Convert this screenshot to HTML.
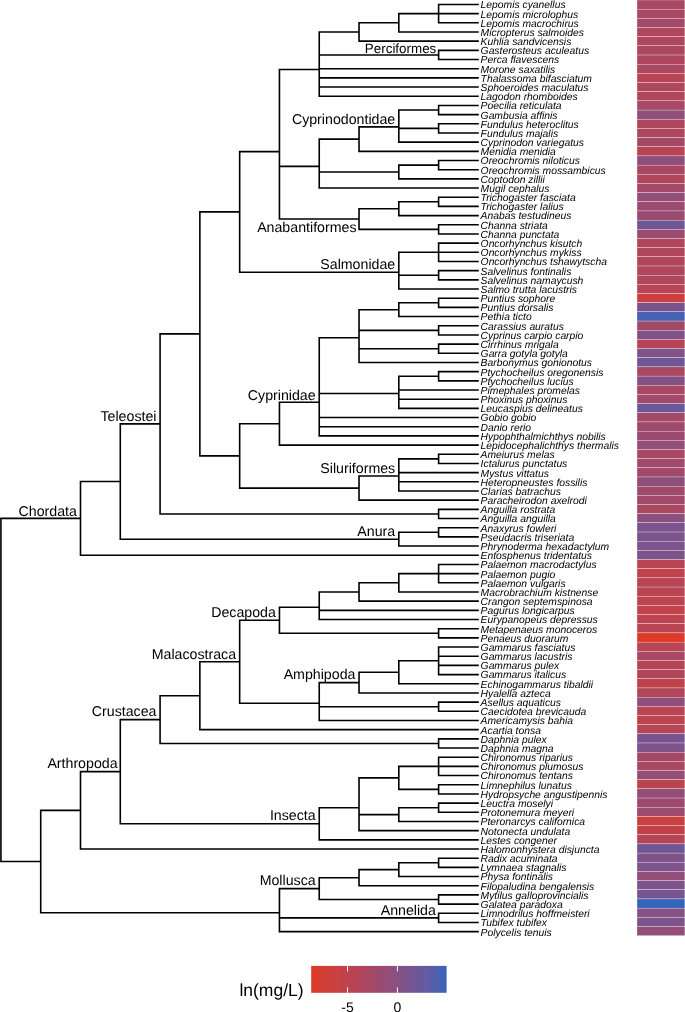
<!DOCTYPE html>
<html><head><meta charset="utf-8"><style>
html,body{margin:0;padding:0;background:#fff;}
body{width:685px;height:1012px;overflow:hidden;}
svg{display:block;will-change:transform;text-rendering:geometricPrecision;}
.leaf{font-family:"Liberation Sans",sans-serif;font-style:italic;font-size:10.33px;fill:#000;}
.clade{font-family:"Liberation Sans",sans-serif;font-size:14.2px;fill:#000;text-anchor:end;}
.lg{font-family:"Liberation Sans",sans-serif;fill:#000;}
</style></head><body>
<svg width="685" height="1012" viewBox="0 0 685 1012">
<rect width="685" height="1012" fill="#fff"/>
<path d="M438.61 3.65V23.61M438.61 4.45H478.80M438.61 13.63H478.80M438.61 22.81H478.80M398.82 12.83V32.79M398.82 13.63H438.61M398.82 31.99H478.80M359.03 22.01V41.97M359.03 22.81H398.82M359.03 41.17H478.80M438.61 49.55V60.33M438.61 50.35H478.80M438.61 59.53H478.80M319.24 31.19V97.05M319.24 31.99H359.03M319.24 54.94H438.61M319.24 68.71H478.80M319.24 77.89H478.80M319.24 87.07H478.80M319.24 96.25H478.80M438.61 104.63V115.41M438.61 105.43H478.80M438.61 114.61H478.80M438.61 122.99V133.77M438.61 123.79H478.80M438.61 132.97H478.80M398.82 109.22V142.95M398.82 110.02H438.61M398.82 128.38H438.61M398.82 142.15H478.80M359.03 126.05V152.13M359.03 126.85H398.82M359.03 151.33H478.80M438.61 159.71V170.49M438.61 160.51H478.80M438.61 169.69H478.80M398.82 164.30V179.67M398.82 165.10H438.61M398.82 178.87H478.80M319.24 138.29V188.85M319.24 139.09H359.03M319.24 171.98H398.82M319.24 188.05H478.80M438.61 196.43V207.21M438.61 197.23H478.80M438.61 206.41H478.80M398.82 201.02V216.39M398.82 201.82H438.61M398.82 215.59H478.80M438.61 223.97V234.75M438.61 224.77H478.80M438.61 233.95H478.80M359.03 207.90V230.16M359.03 208.70H398.82M359.03 229.36H438.61M279.45 68.68V219.83M279.45 69.48H319.24M279.45 166.37H319.24M279.45 219.03H359.03M438.61 242.33V262.29M438.61 243.13H478.80M438.61 252.31H478.80M438.61 261.49H478.80M438.61 269.87V280.65M438.61 270.67H478.80M438.61 279.85H478.80M398.82 251.51V289.83M398.82 252.31H438.61M398.82 275.26H438.61M398.82 289.03H478.80M239.66 150.83V273.00M239.66 151.63H279.45M239.66 272.20H398.82M438.61 297.41V308.19M438.61 298.21H478.80M438.61 307.39H478.80M398.82 302.00V317.37M398.82 302.80H438.61M398.82 316.57H478.80M438.61 324.95V335.73M438.61 325.75H478.80M438.61 334.93H478.80M438.61 343.31V354.09M438.61 344.11H478.80M438.61 353.29H478.80M359.03 308.88V363.27M359.03 309.68H398.82M359.03 330.34H438.61M359.03 348.70H438.61M359.03 362.47H478.80M438.61 370.85V381.63M438.61 371.65H478.80M438.61 380.83H478.80M398.82 375.44V409.17M398.82 376.24H438.61M398.82 390.01H478.80M398.82 399.19H478.80M398.82 408.37H478.80M319.24 337.00V436.71M319.24 337.80H359.03M319.24 393.45H398.82M319.24 417.55H478.80M319.24 426.73H478.80M319.24 435.91H478.80M279.45 401.49V445.89M279.45 402.29H319.24M279.45 445.09H478.80M438.61 453.47V464.25M438.61 454.27H478.80M438.61 463.45H478.80M398.82 458.06V491.79M398.82 458.86H438.61M398.82 472.63H478.80M398.82 481.81H478.80M398.82 490.99H478.80M359.03 475.27V500.97M359.03 476.07H398.82M359.03 500.17H478.80M239.66 422.89V488.92M239.66 423.69H279.45M239.66 488.12H359.03M199.87 211.11V456.71M199.87 211.91H239.66M199.87 455.91H239.66M438.61 508.55V519.33M438.61 509.35H478.80M438.61 518.53H478.80M160.08 333.11V514.74M160.08 333.91H199.87M160.08 513.94H438.61M438.61 526.91V537.69M438.61 527.71H478.80M438.61 536.89H478.80M398.82 531.50V546.87M398.82 532.30H438.61M398.82 546.07H478.80M120.29 423.12V539.98M120.29 423.92H160.08M120.29 539.18H398.82M80.50 480.75V556.05M80.50 481.55H120.29M80.50 555.25H478.80M438.61 563.63V583.59M438.61 564.43H478.80M438.61 573.61H478.80M438.61 582.79H478.80M398.82 572.81V592.77M398.82 573.61H438.61M398.82 591.97H478.80M359.03 581.99V601.95M359.03 582.79H398.82M359.03 601.15H478.80M319.24 591.17V620.31M319.24 591.97H359.03M319.24 610.33H478.80M319.24 619.51H478.80M438.61 627.89V638.67M438.61 628.69H478.80M438.61 637.87H478.80M279.45 606.47V634.08M279.45 607.27H319.24M279.45 633.28H438.61M438.61 646.25V675.39M438.61 647.05H478.80M438.61 656.23H478.80M438.61 665.41H478.80M438.61 674.59H478.80M398.82 660.02V684.57M398.82 660.82H438.61M398.82 683.77H478.80M359.03 671.50V693.75M359.03 672.30H398.82M359.03 692.95H478.80M438.61 701.33V712.11M438.61 702.13H478.80M438.61 711.31H478.80M319.24 681.82V721.29M319.24 682.62H359.03M319.24 706.72H438.61M319.24 720.49H478.80M239.66 619.48V704.08M239.66 620.27H279.45M239.66 703.28H319.24M199.87 660.98V730.47M199.87 661.78H239.66M199.87 729.67H478.80M438.61 738.05V748.83M438.61 738.85H478.80M438.61 748.03H478.80M160.08 694.92V744.24M160.08 695.72H199.87M160.08 743.44H438.61M438.61 756.41V776.37M438.61 757.21H478.80M438.61 766.39H478.80M438.61 775.57H478.80M438.61 783.95V794.73M438.61 784.75H478.80M438.61 793.93H478.80M398.82 765.59V790.14M398.82 766.39H438.61M398.82 789.34H438.61M438.61 802.31V813.09M438.61 803.11H478.80M438.61 812.29H478.80M398.82 806.90V822.27M398.82 807.70H438.61M398.82 821.47H478.80M359.03 777.07V831.45M359.03 777.87H398.82M359.03 814.59H398.82M359.03 830.65H478.80M319.24 806.90V840.63M319.24 807.70H359.03M319.24 839.83H478.80M120.29 718.78V824.56M120.29 719.58H160.08M120.29 823.76H319.24M80.50 770.87V849.81M80.50 771.67H120.29M80.50 849.01H478.80M438.61 857.39V868.17M438.61 858.19H478.80M438.61 867.37H478.80M398.82 861.98V877.35M398.82 862.78H438.61M398.82 876.55H478.80M359.03 868.87V886.53M359.03 869.66H398.82M359.03 885.73H478.80M438.61 894.11V904.89M438.61 894.91H478.80M438.61 904.09H478.80M319.24 876.90V900.30M319.24 877.70H359.03M319.24 899.50H438.61M438.61 912.47V923.25M438.61 913.27H478.80M438.61 922.45H478.80M279.45 887.80V932.43M279.45 888.60H319.24M279.45 917.86H438.61M279.45 931.63H478.80M40.71 809.54V913.50M40.71 810.34H80.50M40.71 912.70H279.45M0.92 517.60V862.32M0.92 518.40H80.50M0.92 861.52H40.71" stroke="#000" stroke-width="1.6" fill="none" stroke-linecap="butt"/>
<g stroke="#fff" stroke-width="0.28"><rect x="637.0" y="0.00" width="47.90" height="9.173" fill="#a84863"/><rect x="637.0" y="9.17" width="47.90" height="9.173" fill="#a84863"/><rect x="637.0" y="18.35" width="47.90" height="9.173" fill="#a44967"/><rect x="637.0" y="27.52" width="47.90" height="9.173" fill="#b0465c"/><rect x="637.0" y="36.69" width="47.90" height="9.173" fill="#ae475d"/><rect x="637.0" y="45.87" width="47.90" height="9.173" fill="#ab4760"/><rect x="637.0" y="55.04" width="47.90" height="9.173" fill="#ae475d"/><rect x="637.0" y="64.21" width="47.90" height="9.173" fill="#ab4760"/><rect x="637.0" y="73.38" width="47.90" height="9.173" fill="#b74555"/><rect x="637.0" y="82.56" width="47.90" height="9.173" fill="#ae475d"/><rect x="637.0" y="91.73" width="47.90" height="9.173" fill="#b0465c"/><rect x="637.0" y="100.90" width="47.90" height="9.173" fill="#a74864"/><rect x="637.0" y="110.08" width="47.90" height="9.173" fill="#8e4f7c"/><rect x="637.0" y="119.25" width="47.90" height="9.173" fill="#ae475d"/><rect x="637.0" y="128.42" width="47.90" height="9.173" fill="#b0465c"/><rect x="637.0" y="137.59" width="47.90" height="9.173" fill="#a24968"/><rect x="637.0" y="146.77" width="47.90" height="9.173" fill="#b94452"/><rect x="637.0" y="155.94" width="47.90" height="9.173" fill="#8e4f7c"/><rect x="637.0" y="165.11" width="47.90" height="9.173" fill="#aa4761"/><rect x="637.0" y="174.29" width="47.90" height="9.173" fill="#b0465c"/><rect x="637.0" y="183.46" width="47.90" height="9.173" fill="#a44967"/><rect x="637.0" y="192.63" width="47.90" height="9.173" fill="#924d78"/><rect x="637.0" y="201.81" width="47.90" height="9.173" fill="#9c4a6e"/><rect x="637.0" y="210.98" width="47.90" height="9.173" fill="#994b71"/><rect x="637.0" y="220.15" width="47.90" height="9.173" fill="#705695"/><rect x="637.0" y="229.32" width="47.90" height="9.173" fill="#994b71"/><rect x="637.0" y="238.50" width="47.90" height="9.173" fill="#b0465c"/><rect x="637.0" y="247.67" width="47.90" height="9.173" fill="#b0465c"/><rect x="637.0" y="256.84" width="47.90" height="9.173" fill="#b1465b"/><rect x="637.0" y="266.02" width="47.90" height="9.173" fill="#ae475d"/><rect x="637.0" y="275.19" width="47.90" height="9.173" fill="#b0465c"/><rect x="637.0" y="284.36" width="47.90" height="9.173" fill="#b54556"/><rect x="637.0" y="293.54" width="47.90" height="9.173" fill="#cc3f3e"/><rect x="637.0" y="302.71" width="47.90" height="9.173" fill="#7b538c"/><rect x="637.0" y="311.88" width="47.90" height="9.173" fill="#4862b3"/><rect x="637.0" y="321.06" width="47.90" height="9.173" fill="#a24968"/><rect x="637.0" y="330.23" width="47.90" height="9.173" fill="#805288"/><rect x="637.0" y="339.40" width="47.90" height="9.173" fill="#b54556"/><rect x="637.0" y="348.57" width="47.90" height="9.173" fill="#7f5389"/><rect x="637.0" y="357.75" width="47.90" height="9.173" fill="#6e5797"/><rect x="637.0" y="366.92" width="47.90" height="9.173" fill="#aa4761"/><rect x="637.0" y="376.09" width="47.90" height="9.173" fill="#845185"/><rect x="637.0" y="385.27" width="47.90" height="9.173" fill="#a84863"/><rect x="637.0" y="394.44" width="47.90" height="9.173" fill="#a44967"/><rect x="637.0" y="403.61" width="47.90" height="9.173" fill="#6b589a"/><rect x="637.0" y="412.79" width="47.90" height="9.173" fill="#a54866"/><rect x="637.0" y="421.96" width="47.90" height="9.173" fill="#9e4a6d"/><rect x="637.0" y="431.13" width="47.90" height="9.173" fill="#9b4a6f"/><rect x="637.0" y="440.30" width="47.90" height="9.173" fill="#924d78"/><rect x="637.0" y="449.48" width="47.90" height="9.173" fill="#a84863"/><rect x="637.0" y="458.65" width="47.90" height="9.173" fill="#a1496a"/><rect x="637.0" y="467.82" width="47.90" height="9.173" fill="#a1496a"/><rect x="637.0" y="477.00" width="47.90" height="9.173" fill="#8c4f7e"/><rect x="637.0" y="486.17" width="47.90" height="9.173" fill="#a1496a"/><rect x="637.0" y="495.34" width="47.90" height="9.173" fill="#a1496a"/><rect x="637.0" y="504.51" width="47.90" height="9.173" fill="#aa4761"/><rect x="637.0" y="513.69" width="47.90" height="9.173" fill="#8c4f7e"/><rect x="637.0" y="522.86" width="47.90" height="9.173" fill="#79548e"/><rect x="637.0" y="532.03" width="47.90" height="9.173" fill="#7d538b"/><rect x="637.0" y="541.21" width="47.90" height="9.173" fill="#7d538b"/><rect x="637.0" y="550.38" width="47.90" height="9.173" fill="#7b538c"/><rect x="637.0" y="559.55" width="47.90" height="9.173" fill="#b84454"/><rect x="637.0" y="568.73" width="47.90" height="9.173" fill="#c0424b"/><rect x="637.0" y="577.90" width="47.90" height="9.173" fill="#b84454"/><rect x="637.0" y="587.07" width="47.90" height="9.173" fill="#b94452"/><rect x="637.0" y="596.25" width="47.90" height="9.173" fill="#bd434e"/><rect x="637.0" y="605.42" width="47.90" height="9.173" fill="#bf424c"/><rect x="637.0" y="614.59" width="47.90" height="9.173" fill="#bd434e"/><rect x="637.0" y="623.76" width="47.90" height="9.173" fill="#b84454"/><rect x="637.0" y="632.94" width="47.90" height="9.173" fill="#dc3a28"/><rect x="637.0" y="642.11" width="47.90" height="9.173" fill="#b84454"/><rect x="637.0" y="651.28" width="47.90" height="9.173" fill="#a84863"/><rect x="637.0" y="660.46" width="47.90" height="9.173" fill="#b54556"/><rect x="637.0" y="669.63" width="47.90" height="9.173" fill="#b1465b"/><rect x="637.0" y="678.80" width="47.90" height="9.173" fill="#c0424b"/><rect x="637.0" y="687.98" width="47.90" height="9.173" fill="#b1465b"/><rect x="637.0" y="697.15" width="47.90" height="9.173" fill="#8e4f7c"/><rect x="637.0" y="706.32" width="47.90" height="9.173" fill="#b94452"/><rect x="637.0" y="715.49" width="47.90" height="9.173" fill="#bd434e"/><rect x="637.0" y="724.67" width="47.90" height="9.173" fill="#b54556"/><rect x="637.0" y="733.84" width="47.90" height="9.173" fill="#77548f"/><rect x="637.0" y="743.01" width="47.90" height="9.173" fill="#7f5389"/><rect x="637.0" y="752.19" width="47.90" height="9.173" fill="#a54866"/><rect x="637.0" y="761.36" width="47.90" height="9.173" fill="#aa4761"/><rect x="637.0" y="770.53" width="47.90" height="9.173" fill="#954c75"/><rect x="637.0" y="779.71" width="47.90" height="9.173" fill="#bb4451"/><rect x="637.0" y="788.88" width="47.90" height="9.173" fill="#944d77"/><rect x="637.0" y="798.05" width="47.90" height="9.173" fill="#9e4a6d"/><rect x="637.0" y="807.22" width="47.90" height="9.173" fill="#9c4a6e"/><rect x="637.0" y="816.40" width="47.90" height="9.173" fill="#cc3f3e"/><rect x="637.0" y="825.57" width="47.90" height="9.173" fill="#c24148"/><rect x="637.0" y="834.74" width="47.90" height="9.173" fill="#b54556"/><rect x="637.0" y="843.92" width="47.90" height="9.173" fill="#705695"/><rect x="637.0" y="853.09" width="47.90" height="9.173" fill="#7f5389"/><rect x="637.0" y="862.26" width="47.90" height="9.173" fill="#7d538b"/><rect x="637.0" y="871.44" width="47.90" height="9.173" fill="#924d78"/><rect x="637.0" y="880.61" width="47.90" height="9.173" fill="#7d538b"/><rect x="637.0" y="889.78" width="47.90" height="9.173" fill="#77548f"/><rect x="637.0" y="898.95" width="47.90" height="9.173" fill="#3465bb"/><rect x="637.0" y="908.13" width="47.90" height="9.173" fill="#865183"/><rect x="637.0" y="917.30" width="47.90" height="9.173" fill="#7b538c"/><rect x="637.0" y="926.47" width="47.90" height="9.173" fill="#924d78"/></g>

<g class="leaf"><text x="480.6" y="8.35">Lepomis cyanellus</text><text x="480.6" y="17.53">Lepomis microlophus</text><text x="480.6" y="26.71">Lepomis macrochirus</text><text x="480.6" y="35.89">Micropterus salmoides</text><text x="480.6" y="45.07">Kuhlia sandvicensis</text><text x="480.6" y="54.25">Gasterosteus aculeatus</text><text x="480.6" y="63.43">Perca flavescens</text><text x="480.6" y="72.61">Morone saxatilis</text><text x="480.6" y="81.79">Thalassoma bifasciatum</text><text x="480.6" y="90.97">Sphoeroides maculatus</text><text x="480.6" y="100.15">Lagodon rhomboides</text><text x="480.6" y="109.33">Poecilia reticulata</text><text x="480.6" y="118.51">Gambusia affinis</text><text x="480.6" y="127.69">Fundulus heteroclitus</text><text x="480.6" y="136.87">Fundulus majalis</text><text x="480.6" y="146.05">Cyprinodon variegatus</text><text x="480.6" y="155.23">Menidia menidia</text><text x="480.6" y="164.41">Oreochromis niloticus</text><text x="480.6" y="173.59">Oreochromis mossambicus</text><text x="480.6" y="182.77">Coptodon zillii</text><text x="480.6" y="191.95">Mugil cephalus</text><text x="480.6" y="201.13">Trichogaster fasciata</text><text x="480.6" y="210.31">Trichogaster lalius</text><text x="480.6" y="219.49">Anabas testudineus</text><text x="480.6" y="228.67">Channa striata</text><text x="480.6" y="237.85">Channa punctata</text><text x="480.6" y="247.03">Oncorhynchus kisutch</text><text x="480.6" y="256.21">Oncorhynchus mykiss</text><text x="480.6" y="265.39">Oncorhynchus tshawytscha</text><text x="480.6" y="274.57">Salvelinus fontinalis</text><text x="480.6" y="283.75">Salvelinus namaycush</text><text x="480.6" y="292.93">Salmo trutta lacustris</text><text x="480.6" y="302.11">Puntius sophore</text><text x="480.6" y="311.29">Puntius dorsalis</text><text x="480.6" y="320.47">Pethia ticto</text><text x="480.6" y="329.65">Carassius auratus</text><text x="480.6" y="338.83">Cyprinus carpio carpio</text><text x="480.6" y="348.01">Cirrhinus mrigala</text><text x="480.6" y="357.19">Garra gotyla gotyla</text><text x="480.6" y="366.37">Barbonymus gonionotus</text><text x="480.6" y="375.55">Ptychocheilus oregonensis</text><text x="480.6" y="384.73">Ptychocheilus lucius</text><text x="480.6" y="393.91">Pimephales promelas</text><text x="480.6" y="403.09">Phoxinus phoxinus</text><text x="480.6" y="412.27">Leucaspius delineatus</text><text x="480.6" y="421.45">Gobio gobio</text><text x="480.6" y="430.63">Danio rerio</text><text x="480.6" y="439.81">Hypophthalmichthys nobilis</text><text x="480.6" y="448.99">Lepidocephalichthys thermalis</text><text x="480.6" y="458.17">Ameiurus melas</text><text x="480.6" y="467.35">Ictalurus punctatus</text><text x="480.6" y="476.53">Mystus vittatus</text><text x="480.6" y="485.71">Heteropneustes fossilis</text><text x="480.6" y="494.89">Clarias batrachus</text><text x="480.6" y="504.07">Paracheirodon axelrodi</text><text x="480.6" y="513.25">Anguilla rostrata</text><text x="480.6" y="522.43">Anguilla anguilla</text><text x="480.6" y="531.61">Anaxyrus fowleri</text><text x="480.6" y="540.79">Pseudacris triseriata</text><text x="480.6" y="549.97">Phrynoderma hexadactylum</text><text x="480.6" y="559.15">Entosphenus tridentatus</text><text x="480.6" y="568.33">Palaemon macrodactylus</text><text x="480.6" y="577.51">Palaemon pugio</text><text x="480.6" y="586.69">Palaemon vulgaris</text><text x="480.6" y="595.87">Macrobrachium kistnense</text><text x="480.6" y="605.05">Crangon septemspinosa</text><text x="480.6" y="614.23">Pagurus longicarpus</text><text x="480.6" y="623.41">Eurypanopeus depressus</text><text x="480.6" y="632.59">Metapenaeus monoceros</text><text x="480.6" y="641.77">Penaeus duorarum</text><text x="480.6" y="650.95">Gammarus fasciatus</text><text x="480.6" y="660.13">Gammarus lacustris</text><text x="480.6" y="669.31">Gammarus pulex</text><text x="480.6" y="678.49">Gammarus italicus</text><text x="480.6" y="687.67">Echinogammarus tibaldii</text><text x="480.6" y="696.85">Hyalella azteca</text><text x="480.6" y="706.03">Asellus aquaticus</text><text x="480.6" y="715.21">Caecidotea brevicauda</text><text x="480.6" y="724.39">Americamysis bahia</text><text x="480.6" y="733.57">Acartia tonsa</text><text x="480.6" y="742.75">Daphnia pulex</text><text x="480.6" y="751.93">Daphnia magna</text><text x="480.6" y="761.11">Chironomus riparius</text><text x="480.6" y="770.29">Chironomus plumosus</text><text x="480.6" y="779.47">Chironomus tentans</text><text x="480.6" y="788.65">Limnephilus lunatus</text><text x="480.6" y="797.83">Hydropsyche angustipennis</text><text x="480.6" y="807.01">Leuctra moselyi</text><text x="480.6" y="816.19">Protonemura meyeri</text><text x="480.6" y="825.37">Pteronarcys californica</text><text x="480.6" y="834.55">Notonecta undulata</text><text x="480.6" y="843.73">Lestes congener</text><text x="480.6" y="852.91">Halomonhystera disjuncta</text><text x="480.6" y="862.09">Radix acuminata</text><text x="480.6" y="871.27">Lymnaea stagnalis</text><text x="480.6" y="880.45">Physa fontinalis</text><text x="480.6" y="889.63">Filopaludina bengalensis</text><text x="480.6" y="898.81">Mytilus galloprovincialis</text><text x="480.6" y="907.99">Galatea paradoxa</text><text x="480.6" y="917.17">Limnodrilus hoffmeisteri</text><text x="480.6" y="926.35">Tubifex tubifex</text><text x="480.6" y="935.53">Polycelis tenuis</text></g>
<g class="clade"><text x="436.30" y="53.30" font-size="13.4">Perciformes</text><text x="395.22" y="124.05">Cyprinodontidae</text><text x="356.50" y="231.80" font-size="14.2">Anabantiformes</text><text x="395.22" y="269.20">Salmonidae</text><text x="315.64" y="399.59">Cyprinidae</text><text x="395.22" y="473.47">Siluriformes</text><text x="156.48" y="421.12">Teleostei</text><text x="395.22" y="536.48">Anura</text><text x="76.90" y="515.50">Chordata</text><text x="275.85" y="617.27">Decapoda</text><text x="355.43" y="679.12">Amphipoda</text><text x="236.06" y="659.18">Malacostraca</text><text x="156.48" y="715.58">Crustacea</text><text x="315.64" y="820.16">Insecta</text><text x="117.59" y="767.87">Arthropoda</text><text x="315.64" y="885.20">Mollusca</text><text x="435.91" y="914.96">Annelida</text></g>
<defs><linearGradient id="cb" x1="0" x2="1" y1="0" y2="0"><stop offset="0.000" stop-color="#dc3a28"/><stop offset="0.025" stop-color="#d93b2c"/><stop offset="0.050" stop-color="#d73c30"/><stop offset="0.075" stop-color="#d43d33"/><stop offset="0.100" stop-color="#d13e37"/><stop offset="0.125" stop-color="#ce3e3a"/><stop offset="0.150" stop-color="#cc3f3e"/><stop offset="0.175" stop-color="#c94041"/><stop offset="0.200" stop-color="#c64144"/><stop offset="0.225" stop-color="#c34148"/><stop offset="0.250" stop-color="#c0424b"/><stop offset="0.275" stop-color="#bd434f"/><stop offset="0.300" stop-color="#b94452"/><stop offset="0.325" stop-color="#b64556"/><stop offset="0.350" stop-color="#b24659"/><stop offset="0.375" stop-color="#af465d"/><stop offset="0.400" stop-color="#ab4760"/><stop offset="0.425" stop-color="#a84864"/><stop offset="0.450" stop-color="#a44967"/><stop offset="0.475" stop-color="#a0496b"/><stop offset="0.500" stop-color="#9c4a6e"/><stop offset="0.525" stop-color="#994b72"/><stop offset="0.550" stop-color="#954c75"/><stop offset="0.575" stop-color="#914e79"/><stop offset="0.600" stop-color="#8e4f7c"/><stop offset="0.625" stop-color="#8a5080"/><stop offset="0.650" stop-color="#865183"/><stop offset="0.675" stop-color="#815287"/><stop offset="0.700" stop-color="#7d538b"/><stop offset="0.725" stop-color="#78548e"/><stop offset="0.750" stop-color="#735592"/><stop offset="0.775" stop-color="#6f5796"/><stop offset="0.800" stop-color="#6b589a"/><stop offset="0.825" stop-color="#665a9e"/><stop offset="0.850" stop-color="#625ca2"/><stop offset="0.875" stop-color="#5c5da6"/><stop offset="0.900" stop-color="#565faa"/><stop offset="0.925" stop-color="#5060af"/><stop offset="0.950" stop-color="#4862b3"/><stop offset="0.975" stop-color="#3f63b7"/><stop offset="1.000" stop-color="#3465bb"/></linearGradient></defs>
<rect x="311.2" y="965.9" width="135.40" height="26.90" fill="url(#cb)"/>
<path d="M347.52 965.9V971.3M347.52 987.4V992.8M397.41 965.9V971.3M397.41 987.4V992.8" stroke="#fff" stroke-width="1" fill="none"/>
<text class="lg" x="239.4" y="996.2" font-size="17.5">ln(mg/L)</text>
<text class="lg" x="347.52" y="1012" font-size="14" text-anchor="middle">-5</text>
<text class="lg" x="397.41" y="1012" font-size="14" text-anchor="middle">0</text>
</svg>
</body></html>
